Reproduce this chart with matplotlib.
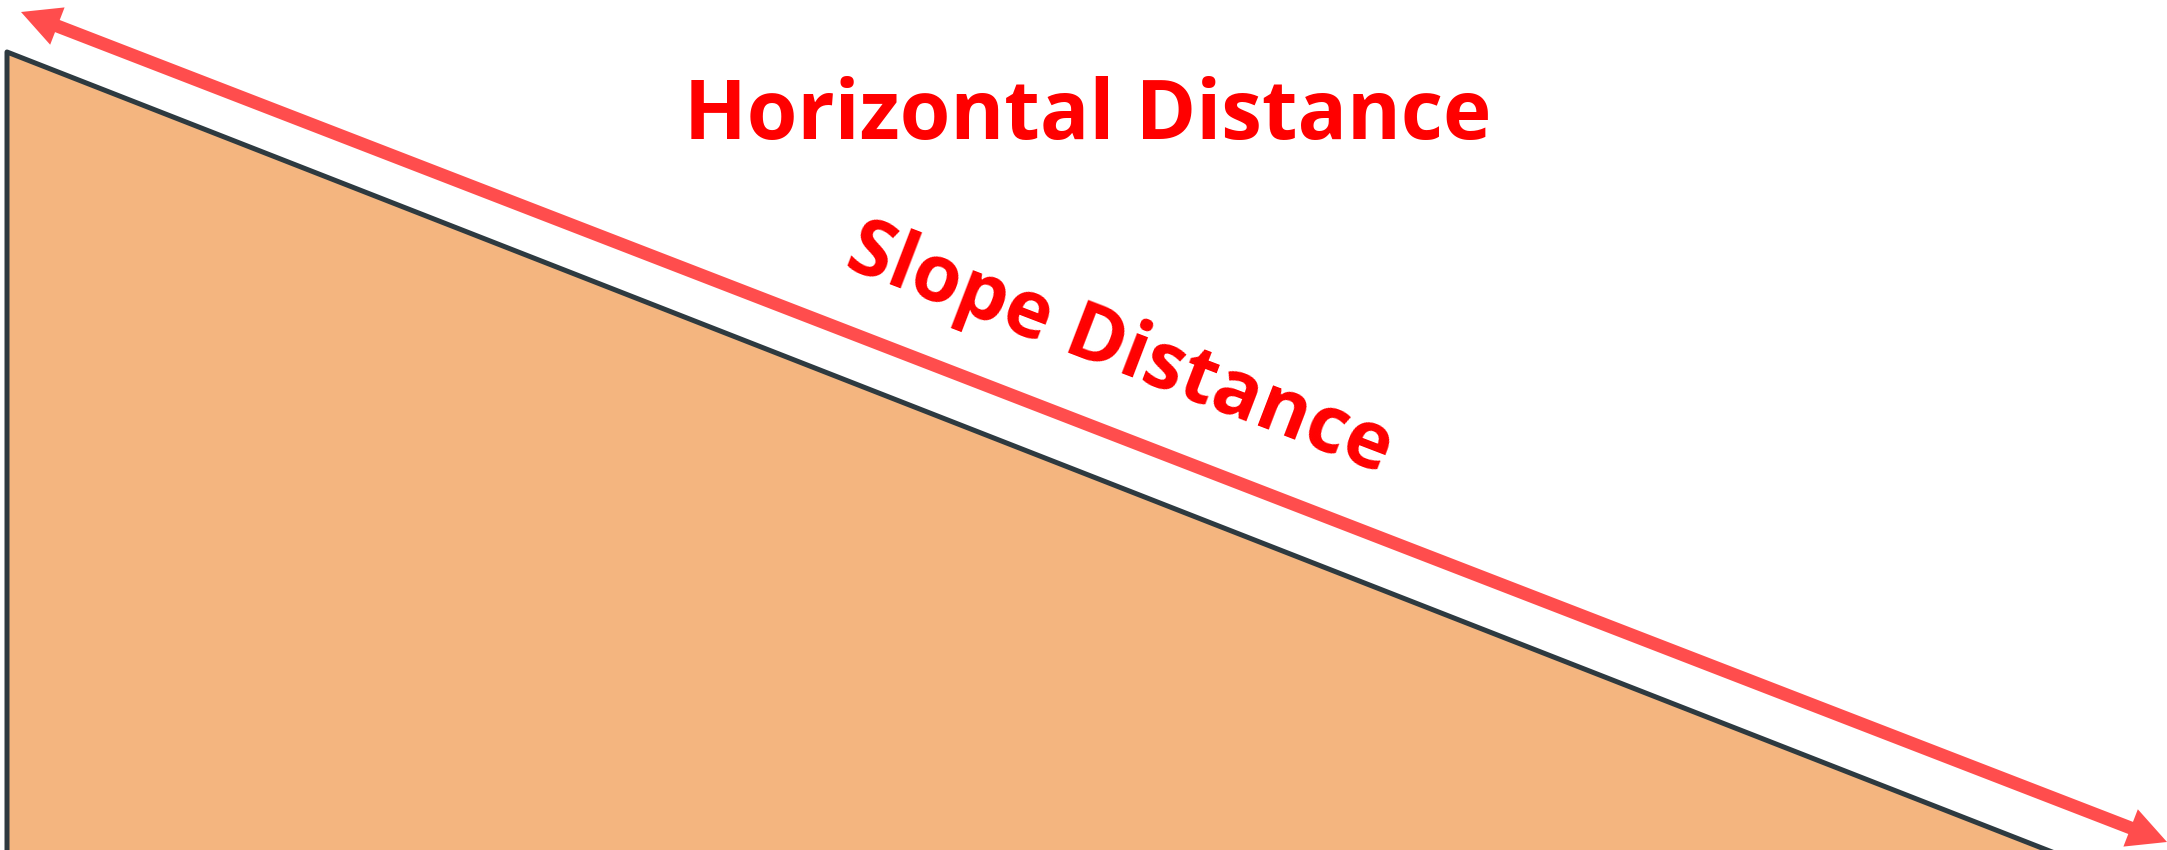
import numpy as np
import matplotlib
matplotlib.use("Agg")
import matplotlib.pyplot as plt
from matplotlib.patches import Polygon

# ---- diagram data (pixel space of a 2167 x 850 canvas, y downward) ----
W, H = 2167, 850
slope_top = (7, 52)          # top of the slope (left edge)
slope_foot = (2047, 850)     # where slope meets ground
arrow_tail = (21, 12)
arrow_head = (2167, 842)
labels = ["Horizontal Distance", "Slope Distance"]
label_pos = [(1088, 139), (1112, 370)]
label_rot = [0, -21]
label_size = [59, 57]

fill_color = "#F4B57F"
edge_color = "#2E3A40"
arrow_color = "#FF4D4D"
text_color = "#FF0000"

fig = plt.figure(figsize=(W / 100, H / 100), dpi=100)
ax = fig.add_axes([0, 0, 1, 1])
ax.set_xlim(0, W)
ax.set_ylim(H, 0)
ax.axis("off")

# slope triangle (extended below the canvas so no bottom edge shows)
sx, sy = slope_top
fx, fy = slope_foot
ext = 30
fx2 = fx + ext * (fx - sx) / (fy - sy)
tri = Polygon([(sx, sy), (fx2, fy + ext), (sx, fy + ext)], closed=True,
              facecolor=fill_color, edgecolor=edge_color, linewidth=3.6,
              joinstyle="round")
ax.add_patch(tri)

# double-headed arrow as polygon
t = np.array(arrow_tail, float)
h = np.array(arrow_head, float)
u = (h - t) / np.linalg.norm(h - t)
n = np.array([-u[1], u[0]])
hl, hh, sh = 39, 20, 6.5
pts = [t,
       t + u * hl + n * hh, t + u * hl + n * sh,
       h - u * hl + n * sh, h - u * hl + n * hh,
       h,
       h - u * hl - n * hh, h - u * hl - n * sh,
       t + u * hl - n * sh, t + u * hl - n * hh]
ax.add_patch(Polygon(pts, closed=True, facecolor=arrow_color, edgecolor="none"))

for lab, (x, y), r, s in zip(labels, label_pos, label_rot, label_size):
    ax.text(x, y, lab, color=text_color, fontsize=s, fontweight="bold",
            family=["Open Sans", "DejaVu Sans"], ha="center", va="baseline",
            rotation=r, rotation_mode="anchor")

fig.savefig("out.png", dpi=100)
